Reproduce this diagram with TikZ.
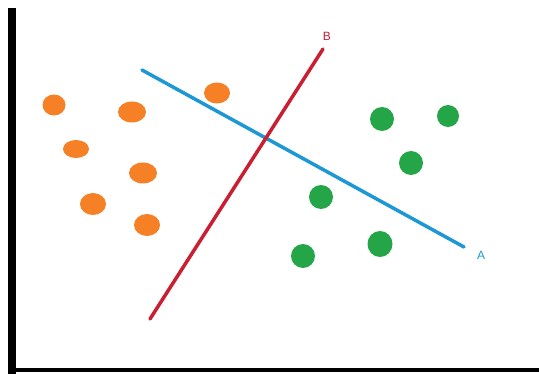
\documentclass[tikz,border=0pt]{standalone}
\usepackage{fontspec}
\setsansfont{Liberation Sans}
\usetikzlibrary{positioning,shapes.geometric}
\definecolor{dotorange}{RGB}{245,128,37}
\definecolor{dotgreen}{RGB}{36,166,72}
\definecolor{lineblue}{RGB}{30,152,212}
\definecolor{linered}{RGB}{200,32,50}

\begin{document}
\begin{tikzpicture}[
    x=1pt,y=-1pt,
    dot/.style={ellipse,inner sep=0pt,minimum width=26pt,minimum height=21pt},
    odot/.style={dot,fill=dotorange},
    gdot/.style={dot,fill=dotgreen,minimum width=24pt,minimum height=24pt},
    axis/.style={black,line cap=rect},
    split/.style={line width=3.5pt,line cap=round},
    lbl/.style={font=\sffamily\fontsize{12}{12}\selectfont,inner sep=1pt}
  ]
    \useasboundingbox (0,0) rectangle (539,374);

    % axes
    \coordinate (top) at (12,12);
    \coordinate (origin) at (12,370);
    \coordinate (right) at (539,370);
    \draw[axis,line width=8pt] (top) -- (origin);
    \draw[axis,line width=4pt] (origin) -- (right);

    % orange class
    \node[odot,minimum width=23pt] (o1) at (54,105) {};
    \node[odot,minimum width=28pt] (o2) at (132,112) {};
    \node[odot] (o3) at (217,93) {};
    \node[odot,minimum height=18pt] (o4) at (76,149) {};
    \node[odot,minimum width=28pt] (o5) at (143,173) {};
    \node[odot,minimum height=22pt] (o6) at (93,204) {};
    \node[odot,minimum height=22pt] (o7) at (147,225) {};

    % green class
    \node[gdot] (g1) at (382,119) {};
    \node[gdot,minimum width=22pt,minimum height=22pt] (g2) at (448,116) {};
    \node[gdot] (g3) at (411,163) {};
    \node[gdot] (g4) at (321,197) {};
    \node[gdot,minimum width=25pt,minimum height=26pt] (g5) at (380,244) {};
    \node[gdot] (g6) at (303,256) {};

    % separating lines
    \coordinate (a0) at (142,70);
    \coordinate (a1) at (464,247);
    \coordinate (b0) at (150,319);
    \coordinate (b1) at (323,49);
    \draw[split,lineblue] (a0) -- (a1);
    \draw[split,linered] (b0) -- (b1);
    \node[lbl,text=lineblue] (la) at (481,255) {A};
    \node[lbl,text=linered] (lb) at (327,36) {B};
  \end{tikzpicture}
\end{document}
